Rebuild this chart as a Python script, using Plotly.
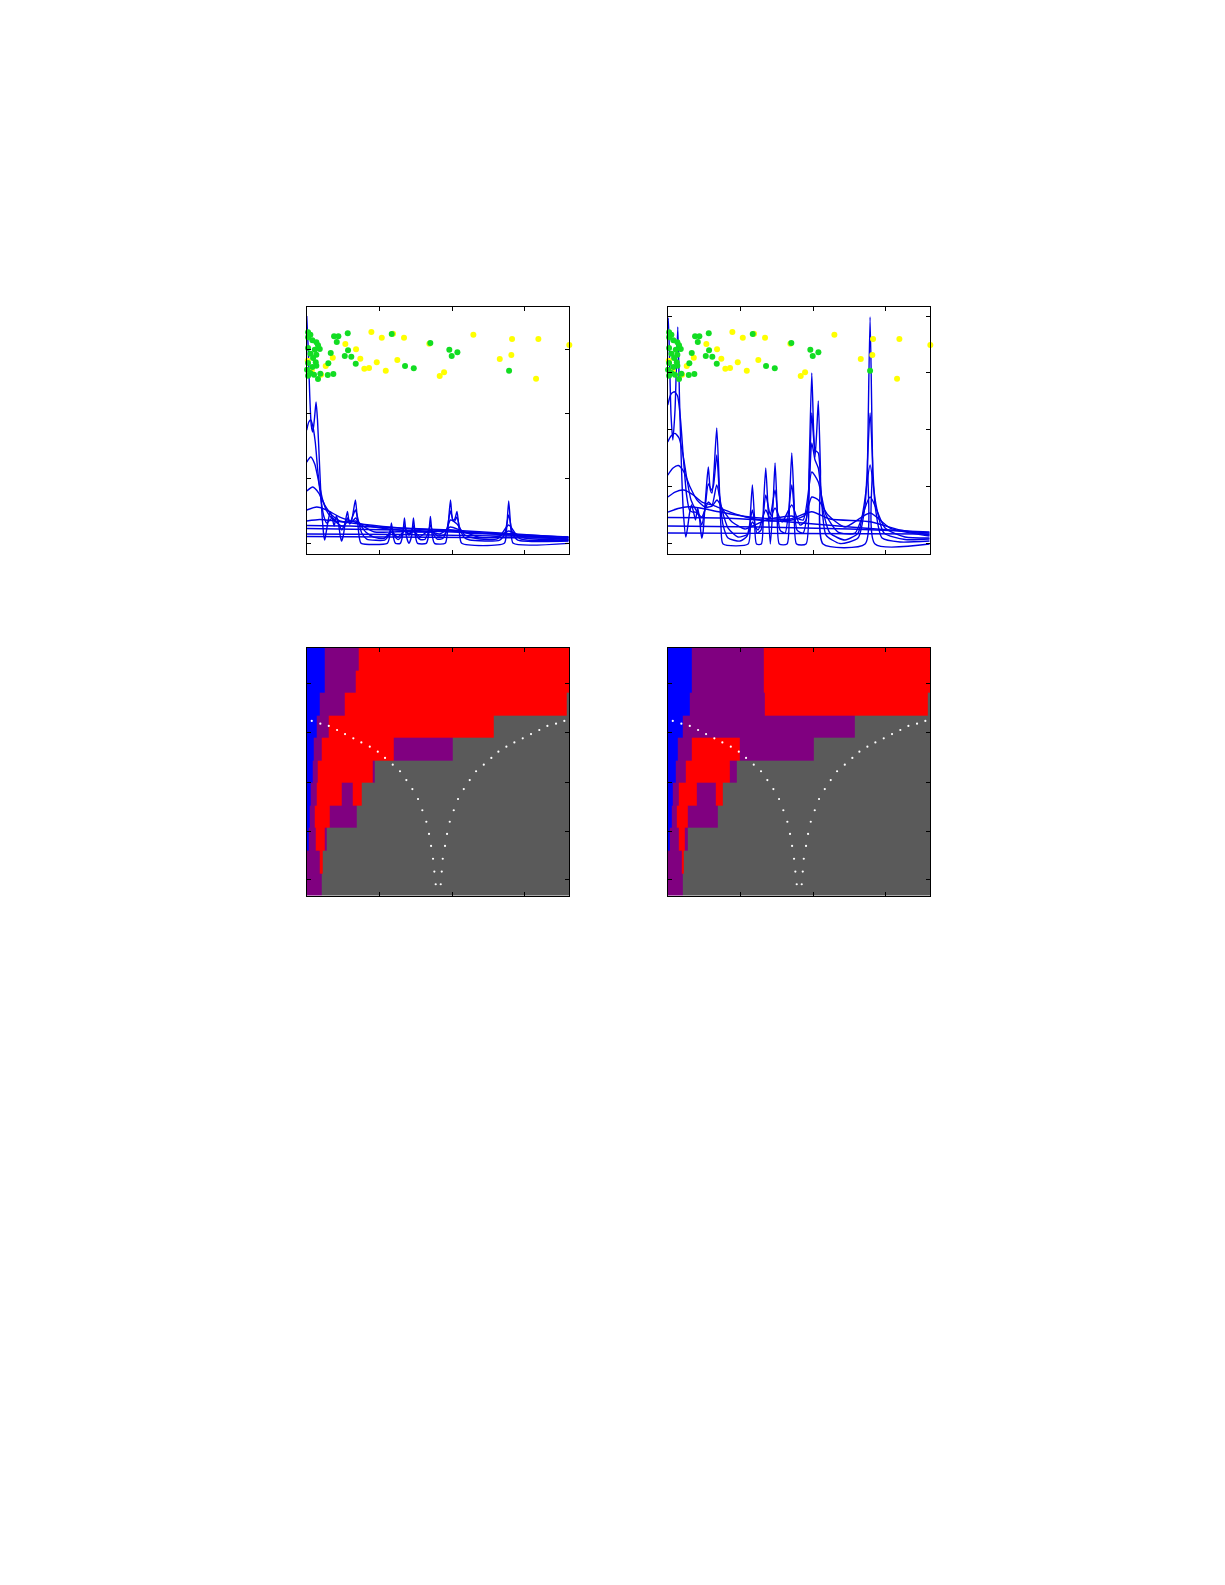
import plotly.graph_objects as go

# ---------------- top panels: families of smoothed spectra ----------------
# (x, y) pairs, narrowest curve first
tl1 = [(0, 3.513), (.021, 2.988), (.041, 2.292), (.062, 1.828), (.083, 1.720), (.107, 1.937), (.128, 2.184),
       (.148, 1.906), (.179, 1.133), (.206, .515), (.234, .128), (.248, .051), (.268, .175), (.296, .360),
       (.323, .484), (.351, .391), (.378, .267), (.406, .422), (.433, .329), (.461, .113), (.478, .036),
       (.502, .113), (.530, .329), (.560, .492), (.589, .298), (.616, .345), (.644, .515), (.670, .669),
       (.695, .391), (.722, .097), (.749, 0), (1.107, 0), (1.139, .097), (1.165, .314), (1.191, .097),
       (1.221, 0), (1.286, 0), (1.318, .113), (1.344, .391), (1.370, .113), (1.406, 0), (1.442, .113),
       (1.468, .391), (1.494, .113), (1.524, 0), (1.644, 0), (1.675, .113), (1.701, .414), (1.727, .113),
       (1.758, 0), (1.905, 0), (1.939, .206), (1.977, .669), (2.008, .360), (2.036, .376), (2.067, .492),
       (2.097, .206), (2.132, 0), (2.717, 0), (2.748, .206), (2.778, .654), (2.809, .206), (2.840, 0), (3.6, 0)]
tl2 = [(0, 1.751), (.028, 1.875), (.055, 1.906), (.083, 1.813), (.117, 1.566), (.151, 1.133), (.193, .700),
       (.234, .422), (.275, .314), (.316, .360), (.358, .391), (.399, .345), (.440, .298), (.481, .206),
       (.523, .298), (.560, .391), (.598, .329), (.633, .422), (.670, .515), (.708, .360), (.756, .159),
       (.825, .066), (1.073, .051), (1.121, .113), (1.165, .236), (1.210, .113), (1.259, .059), (1.304, .113),
       (1.344, .267), (1.382, .159), (1.406, .128), (1.431, .159), (1.468, .267), (1.506, .128), (1.561, .059),
       (1.623, .059), (1.664, .144), (1.701, .283), (1.740, .144), (1.795, .066), (1.871, .074), (1.926, .206),
       (1.977, .499), (2.015, .345), (2.036, .345), (2.067, .406), (2.105, .236), (2.160, .097), (2.242, .051),
       (2.655, .051), (2.723, .144), (2.778, .437), (2.833, .144), (2.902, .051), (3.6, .036)]
tl3 = [(0, 1.257), (.055, 1.334), (.110, 1.226), (.165, .947), (.220, .669), (.275, .499), (.330, .406),
       (.385, .345), (.454, .283), (.509, .267), (.564, .345), (.619, .329), (.674, .391), (.729, .298),
       (.811, .175), (.921, .097), (1.059, .074), (1.165, .175), (1.252, .097), (1.344, .190), (1.406, .151),
       (1.468, .190), (1.554, .105), (1.701, .206), (1.802, .113), (1.898, .136), (1.977, .360), (2.067, .298),
       (2.174, .128), (2.380, .066), (2.627, .074), (2.778, .283), (2.930, .074), (3.6, .043)]
tl4 = [(0, .808), (.083, .870), (.165, .777), (.248, .592), (.344, .437), (.454, .345), (.564, .329),
       (.674, .345), (.798, .252), (.935, .175), (1.165, .175), (1.348, .182), (1.472, .175), (1.706, .175),
       (1.830, .144), (1.977, .252), (2.105, .206), (2.380, .090), (2.655, .113), (2.778, .190), (2.999, .082),
       (3.6, .051)]
tl5 = [(0, .515), (.138, .561), (.275, .515), (.454, .406), (.660, .329), (.935, .252), (1.279, .206),
       (1.692, .175), (1.981, .206), (2.242, .151), (2.778, .144), (3.205, .090), (3.6, .059)]
tl6 = [(0, .345), (.179, .368), (.385, .345), (.729, .298), (1.279, .236), (1.967, .190), (2.655, .136), (3.6, .066)]
tl7 = [(0, .275), (.592, .267), (1.279, .236), (1.967, .206), (2.655, .159), (3.6, .090)]
tl8 = [(0, .229), (1.279, .206), (2.380, .159), (3.6, .097)]
tl9 = [(0, .144), (1.279, .136), (3.6, .097)]
tl10 = [(0, .105), (3.6, .082)]

tr1 = [(0, 3.80), (.008, 3.965), (.025, 3.225), (.045, 2.255), (.070, 1.815), (.100, 2.344), (.138, 3.806),
       (.162, 2.520), (.190, 1.286), (.217, .493), (.248, .106), (.272, .264), (.300, .529), (.327, .670),
       (.355, .546), (.382, .405), (.410, .617), (.437, .441), (.455, .194), (.468, .088), (.486, .194),
       (.513, .670), (.534, 1.022), (.558, 1.339), (.586, .934), (.609, .881), (.637, 1.286), (.674, 2.026),
       (.706, 1.110), (.733, .264), (.761, -.018), (1.105, -.018), (1.136, .493), (1.164, 1.022), (1.191, .493),
       (1.221, -.018), (1.287, -.018), (1.317, .670), (1.348, 1.322), (1.377, .670), (1.411, -.018),
       (1.448, .670), (1.476, 1.410), (1.503, .670), (1.535, -.018), (1.641, -.018), (1.675, .758),
       (1.706, 1.586), (1.737, .758), (1.772, -.018), (1.902, -.018), (1.943, 1.286), (1.981, 2.996),
       (2.006, 1.991), (2.026, 1.515), (2.050, 1.991), (2.071, 2.502), (2.101, 1.286), (2.136, -.018),
       (2.714, -.018), (2.748, 1.463), (2.783, 3.982), (2.817, 1.463), (2.851, -.018), (3.6, -.018)]
tr2 = [(0, 2.432), (.045, 2.626), (.091, 2.666), (.135, 2.590), (.176, 2.167), (.217, 1.463), (.259, .846),
       (.300, .581), (.341, .546), (.382, .546), (.424, .493), (.468, .317), (.513, .617), (.558, 1.040),
       (.602, .934), (.630, 1.022), (.674, 1.551), (.712, .846), (.761, .317), (.830, .088), (.994, .035),
       (1.091, .123), (1.164, .581), (1.228, .176), (1.283, .229), (1.348, .846), (1.411, .493), (1.476, .934),
       (1.545, .229), (1.614, .176), (1.706, 1.022), (1.779, .229), (1.862, .176), (1.930, .670), (1.981, 2.291),
       (2.026, 1.639), (2.071, 1.586), (2.115, .758), (2.177, .141), (2.370, -.009), (2.617, .088), (2.714, .670),
       (2.783, 2.291), (2.851, .670), (2.948, .088), (3.196, .018), (3.6, .035)]
tr3 = [(0, 1.780), (.045, 1.885), (.100, 1.933), (.155, 1.850), (.210, 1.551), (.266, 1.110), (.320, .758),
       (.389, .581), (.468, .458), (.558, .722), (.609, .670), (.674, 1.022), (.747, .581), (.830, .264),
       (.967, .106), (1.105, .159), (1.164, .370), (1.242, .229), (1.348, .581), (1.407, .441), (1.476, .617),
       (1.572, .370), (1.706, .670), (1.820, .317), (1.902, .405), (1.981, 1.762), (2.026, 1.463), (2.071, 1.322),
       (2.136, .581), (2.232, .176), (2.438, .053), (2.617, .176), (2.700, .670), (2.783, 1.374), (2.865, .670),
       (2.975, .176), (3.264, .062), (3.6, .070)]
tr4 = [(0, 1.198), (.073, 1.322), (.146, 1.366), (.224, 1.251), (.307, .987), (.403, .758), (.513, .634),
       (.609, .652), (.678, .758), (.761, .581), (.885, .370), (1.063, .247), (1.164, .300), (1.348, .405),
       (1.476, .441), (1.706, .476), (1.862, .405), (1.981, 1.251), (2.071, 1.075), (2.177, .493), (2.342, .194),
       (2.576, .176), (2.783, .811), (2.989, .264), (3.264, .106), (3.6, .088)]
tr5 = [(0, .811), (.100, .899), (.215, .934), (.334, .863), (.472, .722), (.651, .652), (.857, .546),
       (1.132, .441), (1.407, .388), (1.706, .405), (1.889, .493), (1.981, .811), (2.071, .758), (2.204, .493),
       (2.438, .282), (2.783, .529), (3.058, .264), (3.6, .123)]
tr6 = [(0, .546), (.142, .608), (.283, .640), (.444, .617), (.719, .546), (1.132, .458), (1.682, .423),
       (1.981, .552), (2.232, .423), (2.783, .375), (3.196, .229), (3.6, .141)]
tr7 = [(0, .449), (.719, .441), (1.682, .370), (2.507, .282), (3.6, .176)]
tr8 = [(0, .300), (1.270, .282), (2.507, .247), (3.6, .194)]
tr9 = [(0, .176), (1.820, .167), (3.6, .159)]

# scatter of states (same in both top panels)
yellow_x = [.889, 1.032, 1.187, 1.338, 1.686, 2.292, 2.824, 3.186, 3.612, .531, .678, .737, .358, .261,
            .792, .857, .963, 1.087, 1.246, 1.829, 1.889, 2.655, 2.814, 3.154, .197, .069, .014]
yellow_y = [3.266, 3.178, 3.240, 3.178, 3.085, 3.224, 3.158, 3.158, 3.065, 3.080, 2.998, 2.853, 2.869, 2.740,
            2.699, 2.709, 2.798, 2.668, 2.833, 2.586, 2.643, 2.849, 2.910, 2.544, 2.606, 2.674, 2.822]
green_x = [.376, .435, .564, .413, .330, .297, .366, .289, .523, .568, .613, .674, 1.169, 1.700, 1.352,
           1.472, 1.961, 1.994, 2.072, 2.783,
           .018, .050, .018, .077, .132, .155, .018, .110, .179, .050, .132, .087, .018, .124, .077, .132,
           .004, .050, .100, .018, .155, .187]
green_y = [3.199, 3.199, 3.246, 3.111, 2.941, 2.782, 2.617, 2.601, 2.895, 2.983, 2.884, 2.776, 3.235, 3.096,
           2.740, 2.705, 2.992, 2.895, 2.952, 2.668,
           3.261, 3.224, 3.184, 3.138, 3.107, 3.060, 3.019, 2.992, 3.003, 2.930, 2.915, 2.864, 2.787, 2.798,
           2.725, 2.745, 2.683, 2.632, 2.606, 2.590, 2.539, 2.621]

# ---------------- bottom panels: phase maps ----------------
# each row (top to bottom) as runs of (right edge, class); 0 blue, 1 purple, 2 red, 3 grey
bl_rows = [
    [(.242, 0), (.710, 1), (3.612, 2)],
    [(.242, 0), (.678, 1), (3.612, 2)],
    [(.179, 0), (.523, 1), (3.580, 2), (3.612, 3)],
    [(.142, 0), (.297, 1), (2.570, 2), (3.612, 3)],
    [(.100, 0), (.210, 1), (1.201, 2), (2.003, 1), (3.612, 3)],
    [(.087, 0), (.155, 1), (.902, 2), (.939, 1), (3.612, 3)],
    [(.050, 0), (.132, 1), (.476, 2), (.627, 1), (.761, 2), (3.612, 3)],
    [(.041, 0), (.110, 1), (.316, 2), (.682, 1), (3.612, 3)],
    [(.028, 0), (.124, 1), (.248, 2), (.279, 1), (3.612, 3)],
    [(.179, 1), (.224, 2), (3.612, 3)],
    [(.201, 1), (3.612, 3)],
]
br_rows = [
    [(.334, 0), (1.325, 1), (3.612, 2)],
    [(.334, 0), (1.325, 1), (3.612, 2)],
    [(.303, 0), (1.338, 1), (3.576, 2), (3.612, 3)],
    [(.210, 0), (2.570, 1), (3.612, 3)],
    [(.142, 0), (.325, 1), (.990, 2), (2.003, 1), (3.612, 3)],
    [(.110, 0), (.242, 1), (.853, 2), (.944, 1), (3.612, 3)],
    [(.073, 0), (.155, 1), (.393, 2), (.655, 1), (.751, 2), (3.612, 3)],
    [(.050, 0), (.128, 1), (.279, 2), (.682, 1), (3.612, 3)],
    [(.028, 0), (.151, 1), (.234, 2), (.279, 1), (3.612, 3)],
    [(.187, 1), (.224, 2), (3.612, 3)],
    [(.201, 1), (3.612, 3)],
]
class_colors = ["#0000ff", "#800080", "#ff0000", "#5a5a5a"]

# white dotted boundary (V shape), same in both maps
dots_x = [.069, .187, .303, .417, .527, .641, .751, .867, .977, 1.077, 1.183, 1.283, 1.370, 1.453, 1.531,
          1.590, 1.645, 1.682, 1.710, 1.737, 1.755, 1.774,
          1.843, 1.857, 1.871, 1.902, 1.930, 1.967, 2.022, 2.081, 2.160, 2.242, 2.329, 2.435, 2.539, 2.636,
          2.746, 2.856, 2.971, 3.085, 3.199, 3.310, 3.429, 3.543]
dots_y = [3.75, 3.87, 3.97, 4.15, 4.33, 4.52, 4.70, 4.89, 5.11, 5.39, 5.69, 5.98, 6.37, 6.77, 7.21,
          7.71, 8.22, 8.76, 9.29, 9.86, 10.43, 10.99,
          10.99, 10.43, 9.86, 9.29, 8.76, 8.22, 7.71, 7.21, 6.77, 6.37, 5.98, 5.69, 5.39, 5.11,
          4.89, 4.70, 4.52, 4.33, 4.15, 3.97, 3.87, 3.75]

BLUE = "#0000e6"


def build_grid(rows):
    edges = sorted({0.0} | {e for row in rows for e, _ in row})
    z = []
    for row in rows:
        line = []
        for a, b in zip(edges[:-1], edges[1:]):
            mid = (a + b) / 2
            for end, cat in row:
                if mid < end:
                    line.append(cat)
                    break
        z.append(line)
    return edges, z


def add_curves(fig, curves, xa, ya):
    for c in curves:
        xs, ys = zip(*c)
        fig.add_trace(go.Scatter(x=xs, y=ys, mode="lines", xaxis=xa, yaxis=ya,
                                 line=dict(color=BLUE, width=1.4, shape="spline", smoothing=0.6),
                                 hoverinfo="skip"))


fig = go.Figure()

add_curves(fig, [tl1, tl2, tl3, tl4, tl5, tl6, tl7, tl8, tl9, tl10], "x", "y")
add_curves(fig, [tr1, tr2, tr3, tr4, tr5, tr6, tr7, tr8, tr9], "x2", "y2")

for xa, ya in [("x", "y5"), ("x2", "y6")]:
    fig.add_trace(go.Scatter(x=yellow_x, y=yellow_y, mode="markers", xaxis=xa, yaxis=ya, cliponaxis=False,
                             marker=dict(color="#ffff00", size=6, line=dict(width=0))))
    fig.add_trace(go.Scatter(x=green_x, y=green_y, mode="markers", xaxis=xa, yaxis=ya, cliponaxis=False,
                             marker=dict(color="#12dd22", size=6, line=dict(width=0))))

row_edges = [0.5 + i for i in range(len(bl_rows) + 1)]
scale = [[0, class_colors[0]], [0.25, class_colors[0]], [0.25, class_colors[1]], [0.5, class_colors[1]],
         [0.5, class_colors[2]], [0.75, class_colors[2]], [0.75, class_colors[3]], [1, class_colors[3]]]
for rows, xa, ya in [(bl_rows, "x3", "y3"), (br_rows, "x4", "y4")]:
    edges, z = build_grid(rows)
    fig.add_trace(go.Heatmap(x=edges, y=row_edges, z=z, xaxis=xa, yaxis=ya, zmin=0, zmax=3,
                             colorscale=scale, showscale=False, hoverinfo="skip"))
    fig.add_trace(go.Scatter(x=dots_x, y=dots_y, mode="markers", xaxis=xa, yaxis=ya,
                             marker=dict(color="white", size=2.2, line=dict(width=0))))

axis_style = dict(showline=True, linecolor="black", linewidth=1, mirror="ticks", ticks="inside",
                  ticklen=4, tickwidth=1, tickcolor="black", showticklabels=False,
                  showgrid=False, zeroline=False)
# page body adds an 8 px margin, so the figure is 16 px smaller than the window
left_dom = [0.2471, 0.4643]
right_dom = [0.5457, 0.7629]
top_dom = [0.6518, 0.8096]
bot_dom = [0.4342, 0.5923]
xr = [0, 3.612]
map_ticks = [2.07, 4.28, 6.46, 8.63, 10.80]

fig.update_layout(
    width=1209, height=1569,
    margin=dict(l=0, r=0, t=0, b=0),
    paper_bgcolor="white", plot_bgcolor="white",
    showlegend=False,
    xaxis=dict(domain=left_dom, anchor="y", range=xr, tickvals=[1, 2, 3], **axis_style),
    yaxis=dict(domain=top_dom, anchor="x", range=[-0.170, 3.657], tickvals=[0, 1, 2, 3], **axis_style),
    xaxis2=dict(domain=right_dom, anchor="y2", range=xr, tickvals=[1, 2, 3], **axis_style),
    yaxis2=dict(domain=top_dom, anchor="x2", range=[-0.199, 4.164], tickvals=[0, 1, 2, 3, 4], **axis_style),
    xaxis3=dict(domain=left_dom, anchor="y3", range=xr, tickvals=[1, 2, 3], **axis_style),
    yaxis3=dict(domain=bot_dom, anchor="x3", range=[11.5, 0.5], tickvals=map_ticks, **axis_style),
    xaxis4=dict(domain=right_dom, anchor="y4", range=xr, tickvals=[1, 2, 3], **axis_style),
    yaxis4=dict(domain=bot_dom, anchor="x4", range=[11.5, 0.5], tickvals=map_ticks, **axis_style),
    yaxis5=dict(overlaying="y", anchor="x", range=[-0.170, 3.657], visible=False),
    yaxis6=dict(overlaying="y2", anchor="x2", range=[-0.170, 3.657], visible=False),
)

fig.write_html("out.html")
